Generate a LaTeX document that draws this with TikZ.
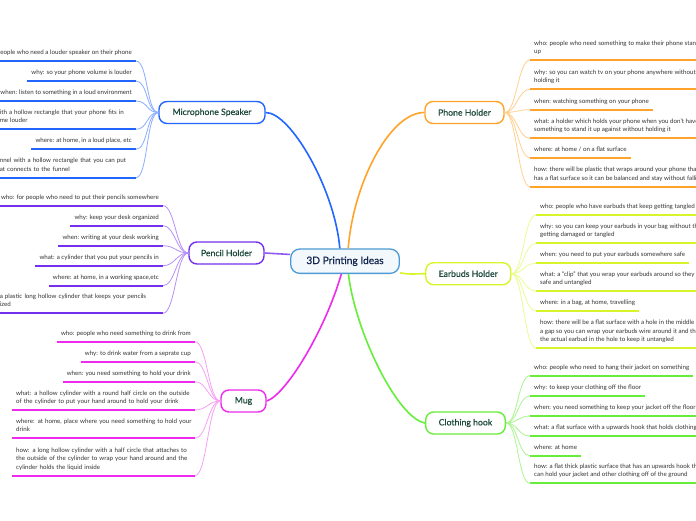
\documentclass[tikz,border=0pt]{standalone}
\usepackage{fontspec}
\setmainfont{Lato}
\newfontfamily\titlefam{Lato}[FakeBold=0.5]
\newcommand\lffont{\fontsize{6.2}{8.35}\selectfont}
\newcommand\btfont{\titlefam\fontsize{8.7}{10}\selectfont}
\newcommand\rtfont{\titlefam\fontsize{10.2}{12}\selectfont}
\newcommand\leafln[1]{\mbox{#1}}
\definecolor{ltext}{HTML}{333333}
\definecolor{btext}{HTML}{1E4A3E}
\definecolor{rtext}{HTML}{13244D}
\definecolor{micc}{HTML}{2266FF}
\definecolor{micl}{HTML}{8CAEFF}
\definecolor{penc}{HTML}{7430EE}
\definecolor{penl}{HTML}{B590F7}
\definecolor{mugc}{HTML}{EE2AEE}
\definecolor{mugl}{HTML}{F6A0F5}
\definecolor{phc}{HTML}{FFA32A}
\definecolor{phl}{HTML}{FFD090}
\definecolor{earc}{HTML}{D8F52A}
\definecolor{earl}{HTML}{ECFB95}
\definecolor{clc}{HTML}{66EE3A}
\definecolor{cll}{HTML}{AAF590}
\definecolor{rootb}{HTML}{4D9BD5}
\definecolor{rootf}{HTML}{F3F8FC}
\tikzset{
  branch/.style={draw=#1, line width=1.4pt, rounded corners=8pt, fill=white, inner sep=0pt,
    minimum height=22pt, text=btext, font=\btfont},
  rootnode/.style={draw=rootb, line width=1.3pt, rounded corners=9pt, fill=rootf, inner sep=0pt,
    minimum width=108.6pt, minimum height=24.3pt, text=rtext, font=\rtfont},
  leafbase/.style={inner xsep=4pt, inner ysep=4.6pt, text=ltext, font=\lffont,
    execute at end node={\rule[-1.6pt]{0pt}{1.6pt}}},
  leafr/.style={leafbase, anchor=south west, align=left},
  leafl/.style={leafbase, anchor=south east, align=right},
  leaflm/.style={leafbase, anchor=south east, text width=#1, align=left},
  uline/.style={draw=#1, line width=1.8pt},
  fan/.style={draw=#1, line width=0.8pt},
  trunk/.style={draw=#1, line width=1.6pt},
}
\begin{document}
\begin{tikzpicture}[x=1pt, y=-1pt]
\useasboundingbox (0,0) rectangle (696,520);
\fill[white] (0,0) rectangle (696,520);
\clip (0,0) rectangle (696,520);

% main nodes
\node[rootnode] (root) at (345,261.2) {3D Printing Ideas};
\node[branch=micc, minimum width=106pt] (mic) at (212,112.5) {Microphone Speaker};
\node[branch=penc, minimum width=75pt] (pen) at (226.5,253) {Pencil Holder};
\node[branch=mugc, minimum width=45pt] (mug) at (243.5,401) {Mug};
\node[branch=phc, minimum width=79pt] (ph) at (464.5,112.5) {Phone Holder};
\node[branch=earc, minimum width=85pt] (ear) at (468.2,273.7) {Earbuds Holder};
\node[branch=clc, minimum width=79.6pt] (cl) at (465.5,423) {Clothing hook};

% trunk connectors
\draw[trunk=micc] (mic.east) .. controls +(25,0) and +(-5,-59) .. (root.112);
\draw[trunk=phc] (root.76) .. controls +(5,-64) and +(-35,0) .. (ph.west);
\draw[trunk=penc!80] (root.173) .. controls +(-12,0) and +(12,0) .. (pen.east);
\draw[trunk=earc] (root.348) .. controls +(12,2) and +(-12,0) .. (ear.west);
\draw[trunk=mugc] (root.254) .. controls +(-16.5,57) and +(19,-6) .. (mug.east);
\draw[trunk=clc] (root.285) .. controls +(6.7,57) and +(-28,-5) .. (cl.west);

% Microphone Speaker leaves
\node[leafl] (m1) at (136,61) {who: people who need a louder speaker on their phone};
\node[leafl] (m2) at (136,81) {why: so your phone volume is louder};
\node[leafl] (m3) at (136,101) {when: listen to something in a loud environment};
\node[leaflm=132pt] (m4) at (136,129.3) {\leafln{ith a hollow rectangle that your phone fits in}\\\leafln{me louder}};
\node[leafl] (m5) at (136,149.3) {where: at home, in a loud place, etc};
\node[leaflm=132pt] (m6) at (136,177.7) {\leafln{nnel with a hollow rectangle that you can put}\\\leafln{at connects to the funnel}};
\foreach \n in {m1,m2,m3,m4,m5,m6}{
  \draw[uline=micc] (\n.south west) -- (\n.south east);
  \draw[fan=micl] (mic.west) .. controls +(-12,0) and +(12,0) .. (\n.south east);
}

% Pencil Holder leaves
\node[leafl] (p1) at (163,205.7) {who: for people who need to put their pencils somewhere};
\node[leafl] (p2) at (163,225.7) {why: keep your desk organized};
\node[leafl] (p3) at (163,245.7) {when: writing at your desk working};
\node[leafl] (p4) at (163,265.7) {what: a cylinder that you put your pencils in};
\node[leafl] (p5) at (163,285.7) {where: at home, in a working space,etc};
\node[leaflm=159pt] (p6) at (163,313.3) {\leafln{a plastic long hollow cylinder that keeps your pencils}\\\leafln{ized}};
\foreach \n in {p1,p2,p3,p4,p5,p6}{
  \draw[uline=penc] (\n.south west) -- (\n.south east);
  \draw[fan=penl] (pen.west) .. controls +(-12,0) and +(12,0) .. (\n.south east);
}

% Mug leaves
\node[leafl] (g1) at (195,341.7) {who: people who need something to drink from};
\node[leafl] (g2) at (195,361.7) {why: to drink water from a seprate cup};
\node[leafl] (g3) at (195,381.7) {when: you need something to hold your drink};
\node[leaflm=174.7pt] (g4) at (195,410) {\leafln{what: a hollow cylinder with a round half circle on the outside}\\\leafln{of the cylinder to put your hand around to hold your drink}};
\node[leaflm=174.7pt] (g5) at (195,438.3) {\leafln{where: at home, place where you need something to hold your}\\\leafln{drink}};
\node[leaflm=174.7pt] (g6) at (195,475.7) {\leafln{how: a long hollow cylinder with a half circle that attaches to}\\\leafln{the outside of the cylinder to wrap your hand around and the}\\\leafln{cylinder holds the liquid inside}};
\foreach \n in {g1,g2,g3,g4,g5,g6}{
  \draw[uline=mugc] (\n.south west) -- (\n.south east);
  \draw[fan=mugl] (mug.west) .. controls +(-12,0) and +(12,0) .. (\n.south east);
}

% Phone Holder leaves
\node[leafr] (h1) at (530,60) {who: people who need something to make their phone stand\\up};
\node[leafr] (h2) at (530,89.3) {why: so you can watch tv on your phone anywhere without\\holding it};
\node[leafr] (h3) at (530,109.7) {when: watching something on your phone};
\node[leafr] (h4) at (530,138.3) {what: a holder which holds your phone when you don't have\\something to stand it up against without holding it};
\node[leafr] (h5) at (530,157.7) {where: at home / on a flat surface};
\node[leafr] (h6) at (530,186.7) {how: there will be plastic that wraps around your phone that\\has a flat surface so it can be balanced and stay without falling};
\foreach \n in {h1,h2,h3,h4,h5,h6}{
  \draw[uline=phc] (\n.south west) -- (\n.south east);
  \draw[fan=phl] (ph.east) .. controls +(12,0) and +(-12,0) .. (\n.south west);
}

% Earbuds Holder leaves
\node[leafr] (e1) at (536,215) {who: people who have earbuds that keep getting tangled};
\node[leafr] (e2) at (536,243.3) {why: so you can keep your earbuds in your bag without them\\getting damaged or tangled};
\node[leafr] (e3) at (536,263.3) {when: you need to put your earbuds somewhere safe};
\node[leafr] (e4) at (536,291) {what: a “clip” that you wrap your earbuds around so they are\\safe and untangled};
\node[leafr] (e5) at (536,311) {where: in a bag, at home, travelling};
\node[leafr] (e6) at (536,348) {how: there will be a flat surface with a hole in the middle and\\a gap so you can wrap your earbuds wire around it and then put\\the actual earbud in the hole to keep it untangled};
\foreach \n in {e1,e2,e3,e4,e5,e6}{
  \draw[uline=earc] (\n.south west) -- (\n.south east);
  \draw[fan=earl] (ear.east) .. controls +(12,0) and +(-12,0) .. (\n.south west);
}

% Clothing hook leaves
\node[leafr] (c1) at (530,375.7) {who: people who need to hang their jacket on something};
\node[leafr] (c2) at (530,396) {why: to keep your clothing off the floor};
\node[leafr] (c3) at (530,416) {when: you need something to keep your jacket off the floor};
\node[leafr] (c4) at (530,436) {what: a flat surface with a upwards hook that holds clothing};
\node[leafr] (c5) at (530,455.7) {where: at home};
\node[leafr] (c6) at (530,483.3) {how: a flat thick plastic surface that has an upwards hook that\\can hold your jacket and other clothing off of the ground};
\foreach \n in {c1,c2,c3,c4,c5,c6}{
  \draw[uline=clc] (\n.south west) -- (\n.south east);
  \draw[fan=cll] (cl.east) .. controls +(12,0) and +(-12,0) .. (\n.south west);
}
\end{tikzpicture}
\end{document}
